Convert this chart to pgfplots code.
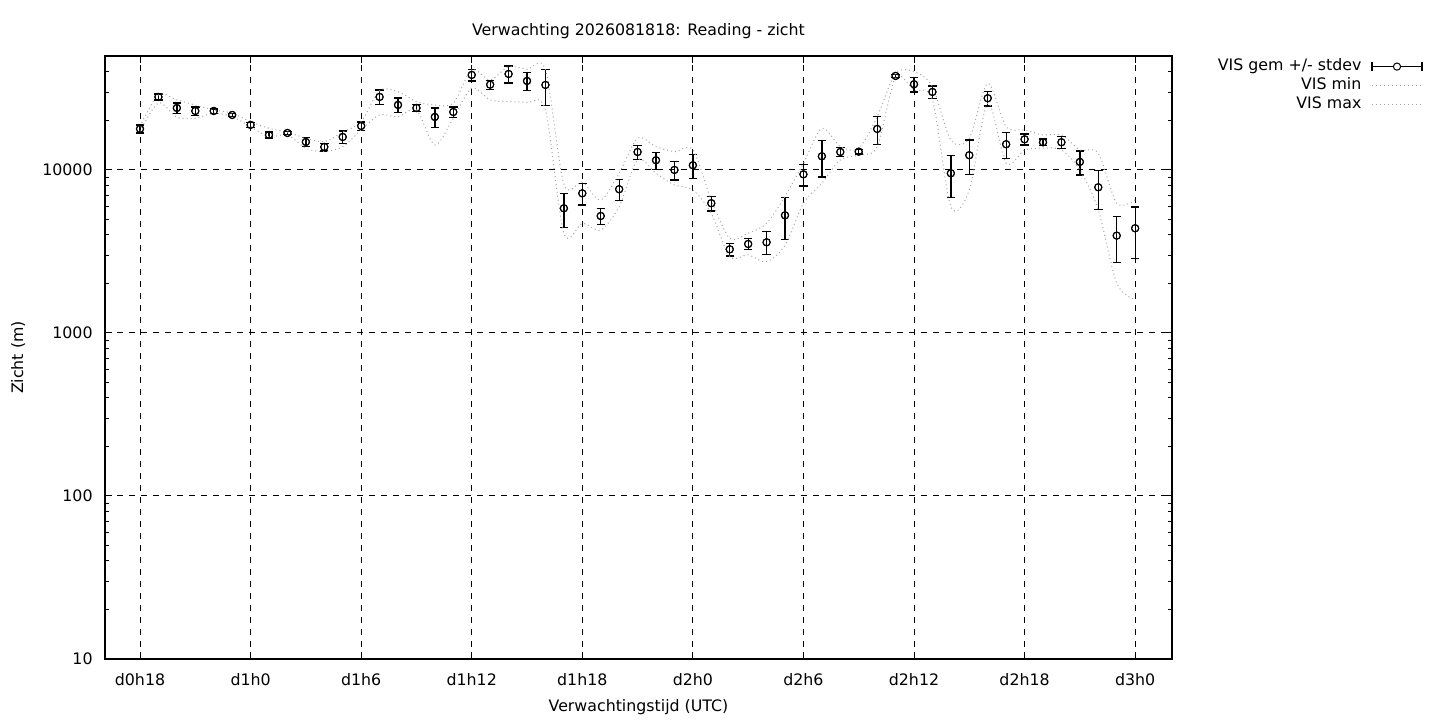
\documentclass[border=0pt]{standalone}
\usepackage{pgfplots}
\usepackage{pgfplotstable}
\pgfplotsset{compat=1.18}
\usepackage{fontspec}
\setmainfont{DejaVu Sans}

\pgfplotstableread{
h mean err max min
18 17850 1000 18500 17200
19 28050 1200 28900 25750
20 24000 1760 26900 21050
21 23000 1350 25000 20750
22 23000 700 23350 22300
23 21750 500 22300 21200
24 18900 700 19800 18440
25 16400 700 18000 16000
26 16860 400 17060 16400
27 14850 900 15650 13590
28 13840 750 14920 12950
29 15930 1400 17060 13900
30 18620 1100 19800 17600
31 28050 2900 30640 21750
32 25050 2600 30200 21200
33 24000 1100 26240 23350
34 21140 2850 25050 14230
35 22680 1700 25650 20750
36 38280 3200 41100 31750
37 33370 2100 35650 26890
38 38800 4600 43000 26240
39 35150 4550 41440 25900
40 33220 8300 41100 23350
41 5820 1375 8200 4090
42 7190 1090 8400 4700
43 5220 600 6550 4280
44 7620 1150 9540 5960
45 12890 1280 15650 11520
46 11470 1370 13900 9540
47 10000 1310 12950 8090
48 10690 1790 13260 7540
49 6250 650 6550 5420
50 3260 290 3810 2940
51 3515 275 4090 3010
52 3600 580 4700 2740
53 5270 1530 6900 3450
54 9400 1440 10990 6250
55 12130 3070 18000 8290
56 12890 810 13900 11520
57 12950 400 13590 12350
58 17850 3500 21200 13900
59 37740 800 39180 37000
60 33570 3480 40100 30950
61 30100 2630 32460 26890
62 9540 2760 15280 5960
63 12310 2970 15650 7540
64 27540 2860 34000 25650
65 14380 2650 18440 10990
66 15420 1210 17600 13260
67 14790 700 16400 13590
68 14790 1210 16400 13260
69 11200 1880 13260 10000
70 7830 2130 12650 5680
71 3955 1245 6250 2020
72 4390 1540 6550 1600
}\datatable

\begin{document}
\begin{tikzpicture}
\useasboundingbox (0,0) rectangle (720pt,360pt);
\begin{semilogyaxis}[
  at={(52.5pt,30.5pt)}, anchor=south west,
  scale only axis, width=533.5pt, height=301.5pt,
  xmin=16.1, xmax=74, ymin=10, ymax=50000,
  font=\fontsize{7.9}{9.4}\selectfont,
  axis line style={line width=0.65pt},
  tick align=inside,
  major tick length=3.5pt, minor tick length=2pt,
  every tick/.style={black, line width=0.5pt},
  xtick={18,24,30,36,42,48,54,60,66,72},
  xticklabels={d0h18,d1h0,d1h6,d1h12,d1h18,d2h0,d2h6,d2h12,d2h18,d3h0},
  ytick={10,100,1000,10000},
  yticklabels={10,100,1000,10000},
  minor ytick={20,30,40,50,60,70,80,90,200,300,400,500,600,700,800,900,2000,3000,4000,5000,6000,7000,8000,9000,20000,30000,40000},
  xticklabel style={anchor=center, yshift=-10.5pt},
  yticklabel style={anchor=east, inner sep=0pt, xshift=-6pt},
  grid=major,
  major grid style={black, line width=0.5pt, dash pattern=on 3pt off 3pt},
  title={Verwachting 2026081818: Reading - zicht},
  title style={at={(axis description cs:0.5,1)}, anchor=center, yshift=6.5pt, inner sep=0pt},
  xlabel={Verwachtingstijd (UTC)},
  xlabel style={at={(axis description cs:0.5,-0.0796)}, anchor=center, inner sep=0pt},
  ylabel={Zicht (m)},
  ylabel style={at={(axis description cs:-0.0815,0.5)}, anchor=center, rotate=0, inner sep=0pt},
  legend plot pos=right,
  legend style={draw=none, fill=none, at={(1.2409,1.0017)}, anchor=north east,
    font=\fontsize{7.9}{9.4}\selectfont, column sep=5pt, row sep=2.3pt,
    nodes={inner sep=0pt, text height=5.7pt, text depth=1.5pt}},
  legend cell align=right,
]
\addplot[black, only marks, mark=o, mark size=1.8pt,
  mark options={fill=white, line width=0.5pt, solid},
  legend image code/.code={\draw[black, line width=0.65pt] (0pt,0pt) -- (25pt,0pt) (0pt,-2.1pt) -- (0pt,2.1pt) (25pt,-2.1pt) -- (25pt,2.1pt); \draw[black, line width=0.5pt, fill=white] (12.5pt,0pt) circle (1.8pt);},
  error bars/.cd, y dir=both, y explicit,
  error bar style={line width=0.65pt, black},
  error mark=-,
  error mark options={rotate=90, line width=0.65pt, mark size=2.1pt, black}]
  table[x=h, y=mean, y error=err] {\datatable};
\addlegendentry{VIS gem +/- stdev}
\addplot[gray!70, line width=0.5pt, dash pattern=on 0.5pt off 1.5pt, smooth, tension=0.5,
  legend image code/.code={\draw[gray!70, line width=0.5pt, dash pattern=on 0.5pt off 1.5pt] (0pt,0pt) -- (25pt,0pt);}]
  table[x=h, y=min] {\datatable};
\addlegendentry{VIS min}
\addplot[gray!70, line width=0.5pt, dash pattern=on 0.5pt off 1.5pt, smooth, tension=0.5,
  legend image code/.code={\draw[gray!70, line width=0.5pt, dash pattern=on 0.5pt off 1.5pt] (0pt,0pt) -- (25pt,0pt);}]
  table[x=h, y=max] {\datatable};
\addlegendentry{VIS max}
\addplot[black, only marks, mark=o, mark size=1.8pt,
  mark options={fill=white, line width=0.5pt}, forget plot]
  table[x=h, y=mean] {\datatable};
\end{semilogyaxis}
\end{tikzpicture}
\end{document}
